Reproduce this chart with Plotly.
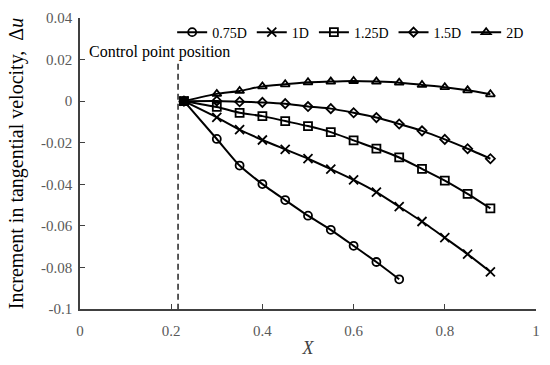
import plotly.graph_objects as go

x_start = 0.228
x_ctrl = 0.215
x_pts = [0.3, 0.35, 0.4, 0.45, 0.5, 0.55, 0.6, 0.65, 0.7, 0.75, 0.8, 0.85, 0.9]

names = ["0.75D", "1D", "1.25D", "1.5D", "2D"]
y_075 = [-0.0182, -0.031, -0.0399, -0.0476, -0.0551, -0.0619, -0.0696, -0.0774, -0.0857]
y_1 = [-0.0078, -0.0137, -0.0187, -0.0232, -0.0277, -0.0327, -0.0379, -0.0438, -0.0508,
       -0.0579, -0.0657, -0.0736, -0.0821]
y_125 = [-0.0028, -0.0056, -0.0072, -0.0096, -0.012, -0.0149, -0.0189, -0.0228, -0.0271,
         -0.0326, -0.0382, -0.0446, -0.0516]
y_15 = [0.0001, -0.0003, -0.0006, -0.0012, -0.0026, -0.0036, -0.0056, -0.0079, -0.011,
        -0.0143, -0.0184, -0.0229, -0.0277]
y_2 = [0.0035, 0.0049, 0.0071, 0.0081, 0.0091, 0.0094, 0.0097, 0.0094, 0.0089,
       0.0078, 0.0067, 0.0052, 0.0033]

series = [y_075, y_1, y_125, y_15, y_2]
symbols = ["circle-open", "x-thin-open", "square-open", "diamond-open", "triangle-up-open"]
sizes = [8, 9, 8, 7, 8]

FONT = "Times New Roman, Liberation Serif, DejaVu Serif, serif"

fig = go.Figure()

# control point dashed line
fig.add_trace(go.Scatter(x=[x_ctrl, x_ctrl], y=[0.018, -0.1], mode="lines",
                         line=dict(color="black", width=1.3, dash="6px,4px"),
                         showlegend=False, hoverinfo="skip"))

for name, ys, sym, sz in zip(names, series, symbols, sizes):
    xs = [x_start] + x_pts[:len(ys)]
    yy = [0.0] + ys
    fig.add_trace(go.Scatter(
        x=xs, y=yy, name=name, mode="lines+markers",
        line=dict(color="black", width=2, shape="spline", smoothing=0.6),
        marker=dict(symbol=sym, size=sz, color="black",
                    line=dict(color="black", width=1.8)),
    ))

# common start point
fig.add_trace(go.Scatter(x=[x_start], y=[0.0], mode="markers",
                         marker=dict(symbol="square", size=9, color="black"),
                         showlegend=False, hoverinfo="skip"))

fig.add_annotation(x=0.175, y=0.0238, xref="x", yref="y", text="Control point position",
                   showarrow=False, xanchor="center", yanchor="middle",
                   font=dict(family=FONT, size=16, color="black"))

axis_common = dict(showgrid=False, zeroline=False, showline=True, linecolor="#404040",
                   linewidth=1.5, ticks="inside", ticklen=5, tickcolor="#404040",
                   tickfont=dict(family=FONT, size=15, color="#595959"))

fig.update_xaxes(range=[0, 1], tickvals=[0, 0.2, 0.4, 0.6, 0.8, 1],
                 ticktext=["0", "0.2", "0.4", "0.6", "0.8", "1"],
                 ticklabelstandoff=7,
                 title=dict(text="<i>X</i>", font=dict(family=FONT, size=18, color="#404040"),
                            standoff=4),
                 **axis_common)
fig.update_yaxes(range=[-0.1, 0.04],
                 tickvals=[-0.1, -0.08, -0.06, -0.04, -0.02, 0, 0.02, 0.04],
                 ticktext=["-0.1", "-0.08", "-0.06", "-0.04", "-0.02", "0", "0.02", "0.04"],
                 ticklabelstandoff=3,
                 title=dict(text="Increment in tangential velocity,  Δ<i>u</i>",
                            font=dict(family=FONT, size=20, color="black"), standoff=12),
                 **axis_common)

fig.update_layout(
    width=550, height=365,
    margin=dict(l=80, r=10, t=13, b=53),
    plot_bgcolor="white", paper_bgcolor="white",
    legend=dict(orientation="h", x=0.985, y=0.95, xanchor="right", yanchor="middle",
                font=dict(family=FONT, size=14, color="black"),
                bgcolor="rgba(0,0,0,0)", itemwidth=30, tracegroupgap=0),
)

fig.write_html("out.html", config={"displayModeBar": False},
               post_script="document.body.style.margin='0';")
